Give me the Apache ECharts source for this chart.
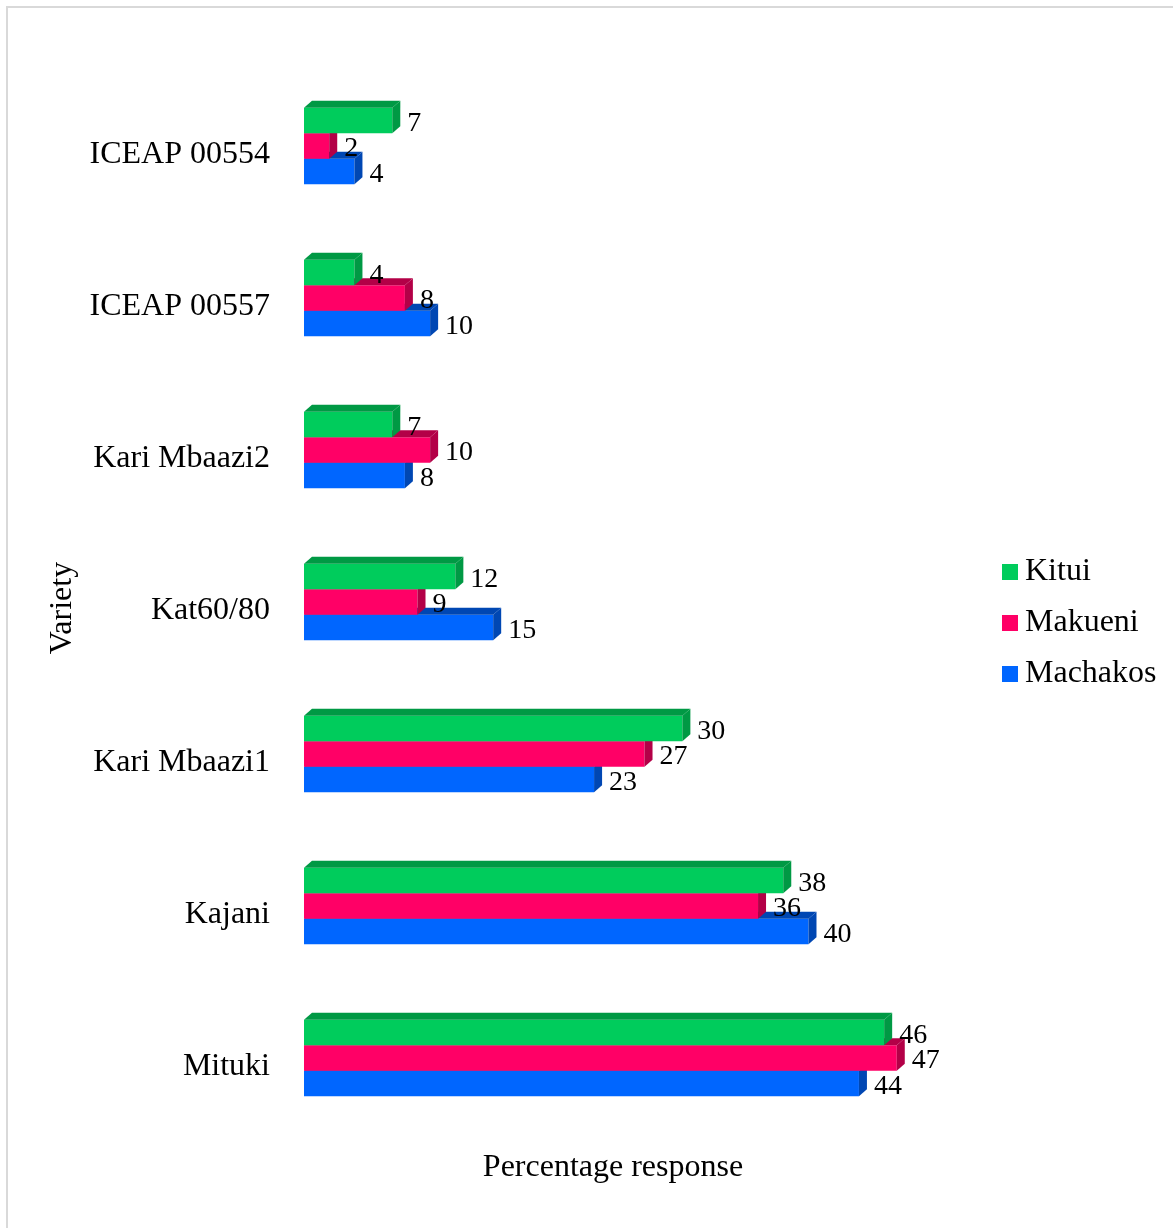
<!DOCTYPE html>
<html>
<head>
<meta charset="utf-8">
<script src="https://cdn.jsdelivr.net/npm/echarts@6/dist/echarts.min.js"></script>
<style>
  html, body { margin: 0; padding: 0; background: #fff; }
  #chart { width: 1173px; height: 1228px; }
</style>
</head>
<body>
<div id="chart"></div>
<script>
// categories top to bottom
const varieties = ['ICEAP 00554', 'ICEAP 00557', 'Kari Mbaazi2', 'Kat60/80', 'Kari Mbaazi1', 'Kajani', 'Mituki'];
const kitui = [7, 4, 7, 12, 30, 38, 46];
const makueni = [2, 8, 10, 9, 27, 36, 47];
const machakos = [4, 10, 8, 15, 23, 40, 44];

const FONT = '"Liberation Serif", "Times New Roman", serif';
const DX = 8, DY = 7;

// draws one 3D-looking bar: front face, top face, right side face, plus value label
function bar3d(slot, front, shade) {
    return function (params, api) {
        const v = api.value(0);
        const cat = api.value(1);
        const start = api.coord([0, cat]);
        const end = api.coord([v, cat]);
        const band = api.size([0, 1])[1];
        const h = band * 0.168;
        const cy = start[1] + slot * h;
        const y0 = cy - h / 2, y1 = cy + h / 2;
        const x0 = start[0], x1 = end[0];
        return {
            type: 'group',
            children: [
                { type: 'rect', shape: { x: x0, y: y0, width: x1 - x0, height: h }, style: { fill: front } },
                { type: 'polygon', shape: { points: [[x0, y0], [x0 + DX, y0 - DY], [x1 + DX, y0 - DY], [x1, y0]] }, style: { fill: shade } },
                { type: 'polygon', shape: { points: [[x1, y0], [x1 + DX, y0 - DY], [x1 + DX, y1 - DY], [x1, y1]] }, style: { fill: shade } },
                {
                    type: 'text', z2: 10,
                    style: {
                        text: String(v), x: x1 + DX + 7, y: cy + 3,
                        fill: '#000', font: '28px ' + FONT, verticalAlign: 'middle', align: 'left'
                    }
                }
            ]
        };
    };
}

function toData(arr) {
    return arr.map((v, i) => [v, i]);
}

const chart = echarts.init(document.getElementById('chart'));
chart.setOption({
    animation: false,
    backgroundColor: '#fff',
    graphic: [{
        type: 'rect', shape: { x: 7, y: 7, width: 1250, height: 1300 },
        style: { fill: 'none', stroke: '#d9d9d9', lineWidth: 2 }, silent: true
    }],
    grid: { left: 304, right: 251, top: 70, bottom: 94 },
    legend: {
        orient: 'vertical', left: 997, top: 551,
        data: ['Kitui', 'Makueni', 'Machakos'],
        icon: 'rect', itemWidth: 16, itemHeight: 16, itemGap: 19,
        textStyle: { fontFamily: FONT, fontSize: 32, color: '#000', padding: [0, 0, 0, 2] }
    },
    xAxis: {
        type: 'value', min: 0, max: 49,
        axisLine: { show: false }, axisTick: { show: false },
        axisLabel: { show: false }, splitLine: { show: false },
        name: 'Percentage response', nameLocation: 'middle', nameGap: 18,
        nameTextStyle: { fontFamily: FONT, fontSize: 32, color: '#000' }
    },
    yAxis: {
        type: 'category', data: varieties, inverse: true,
        axisLine: { show: false }, axisTick: { show: false },
        axisLabel: { fontFamily: FONT, fontSize: 32, color: '#000', margin: 34, verticalAlign: 'top', lineHeight: 18 },
        name: 'Variety', nameLocation: 'middle', nameRotate: 90, nameGap: 216,
        nameTextStyle: { fontFamily: FONT, fontSize: 32, color: '#000', padding: [0, 12, 0, 0] }
    },
    series: [
        {
            name: 'Machakos', type: 'custom', encode: { x: 0, y: 1 },
            itemStyle: { color: '#0066ff' },
            renderItem: bar3d(1, '#0066ff', '#0047b3'),
            data: toData(machakos)
        },
        {
            name: 'Makueni', type: 'custom', encode: { x: 0, y: 1 },
            itemStyle: { color: '#ff0066' },
            renderItem: bar3d(0, '#ff0066', '#b30047'),
            data: toData(makueni)
        },
        {
            name: 'Kitui', type: 'custom', encode: { x: 0, y: 1 },
            itemStyle: { color: '#00cc5c' },
            renderItem: bar3d(-1, '#00cc5c', '#009944'),
            data: toData(kitui)
        }
    ]
});
</script>
</body>
</html>
